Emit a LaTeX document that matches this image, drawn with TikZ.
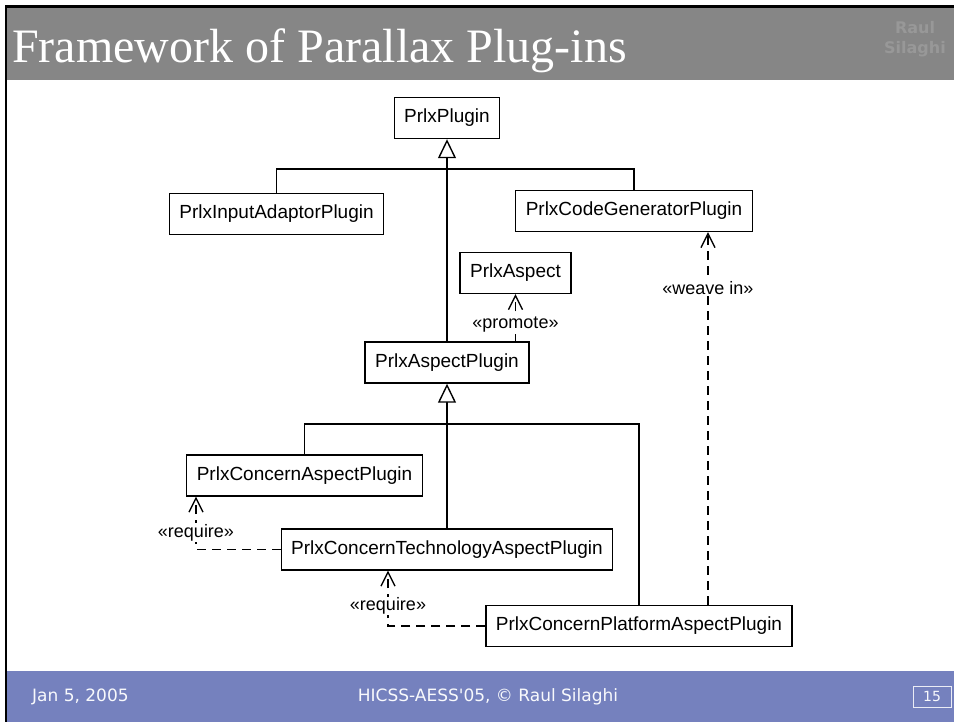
\documentclass[tikz,border=0pt]{standalone}
\usepackage{fontspec}
\setmainfont{Liberation Sans}
\newfontfamily\titlefont{Liberation Serif}
\newfontfamily\footfont{DejaVu Sans}
\usetikzlibrary{arrows.meta}
\definecolor{titlegray}{RGB}{134,134,134}
\definecolor{footblue}{RGB}{117,129,190}
\definecolor{logogray}{RGB}{152,152,152}

\begin{document}
\begin{tikzpicture}[x=1pt, y=-1pt,
		cls/.style={rectangle, draw, line width=1.4pt, fill=white, inner xsep=10pt, minimum height=41pt, font=\fontsize{19}{22}\selectfont},
		isa/.style={line width=1.4pt, -{Triangle[open, length=19pt, width=18pt, fill=white]}},
		tree/.style={line width=1.4pt},
		dep/.style={line width=1.4pt, dash pattern=on 9pt off 6pt, -{Straight Barb[length=14pt, width=14pt, line width=1.3pt]}},
		lbl/.style={fill=white, inner sep=1pt, font=\fontsize{18}{20}\selectfont},
		foot/.style={text=white!95!footblue, font=\footfont\fontsize{17}{20}\selectfont}]
		\useasboundingbox (0, 0) rectangle (954, 722);
		\fill [white] (0, 0) rectangle (954, 722);
		\fill [titlegray] (7, 8) rectangle (954, 80);
		\fill [footblue] (7, 671) rectangle (954, 722);
		\draw [line width=2.5pt] (6, 722) -- (6, 6.5) -- (954, 6.5);
		\draw (12, 63) node [anchor=base west, inner sep=0pt, text=white, font=\titlefont\fontsize{48}{53}\selectfont] (title) {Framework of Parallax Plug-ins};
		\draw (915, 39) node [align=center, text=logogray, font=\footfont\bfseries\fontsize{16}{20}\selectfont] (logo) {Raul\\Silaghi};
		\draw (32, 697) node [anchor=west, inner sep=0pt, foot] (date) {Jan 5, 2005};
		\draw (488, 697) node [foot] (conf) {HICSS-AESS'05, © Raul Silaghi};
		\draw (932, 696.5) node [draw=white!85!footblue, line width=1pt, minimum width=38pt, minimum height=21pt, foot, font=\footfont\fontsize{14}{16}\selectfont] (page) {15};

		\draw (447, 118) node [cls] (plugin) {PrlxPlugin};
		\draw (276.5, 214) node [cls] (inadapt) {PrlxInputAdaptorPlugin};
		\draw (634, 211) node [cls] (codegen) {PrlxCodeGeneratorPlugin};
		\draw (515.5, 273) node [cls] (aspect) {PrlxAspect};
		\draw (447, 362.5) node [cls] (aspplug) {PrlxAspectPlugin};
		\draw (304.5, 475.5) node [cls] (cap) {PrlxConcernAspectPlugin};
		\draw (447, 549.5) node [cls] (ctap) {PrlxConcernTechnologyAspectPlugin};
		\draw (639, 626) node [cls] (platform) {PrlxConcernPlatformAspectPlugin};
		\coordinate (j1) at (447, 169);
		\coordinate (j2) at (447, 424);
		\coordinate (r1) at (196, 0);
		\coordinate (r2) at (388, 0);
		\coordinate (w) at (708, 0);

		\path [isa] (aspplug) edge (plugin);
		\draw [tree] (inadapt.north) |- (j1) -| (codegen.north);
		\path [isa] (ctap) edge (aspplug);
		\draw [tree] (cap.north) |- (j2) -| (platform.north);
		\draw [dep] (aspect.south |- aspplug.north) -- node [lbl, pos=0.35] {«promote»} (aspect.south);
		\draw [dep] (w |- platform.north) -- node [lbl, pos=0.85] {«weave in»} (w |- codegen.south);
		\draw [dep] (ctap.west) -| node [lbl, pos=0.66] {«require»} (r1 |- cap.south);
		\draw [dep] (platform.west) -| node [lbl, pos=0.68] {«require»} (r2 |- ctap.south);
	\end{tikzpicture}
\end{document}
